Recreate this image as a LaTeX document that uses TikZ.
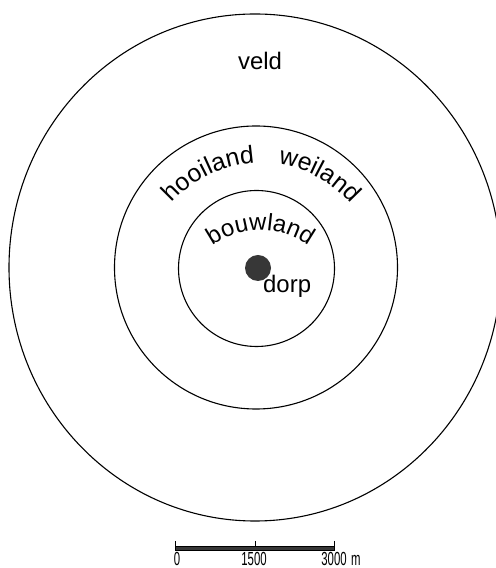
\documentclass[tikz,border=0pt]{standalone}
\usepackage{fontspec}
\setmainfont{Liberation Sans}
\usetikzlibrary{decorations.text,positioning}
\definecolor{dotgray}{RGB}{55,55,55}

\begin{document}
\begin{tikzpicture}[x=1bp,y=1bp,
    ring/.style={draw=black,line width=1.1bp},
    zone/.style={inner sep=0pt,font=\fontsize{24}{24}\selectfont},
    barfont/.style={inner sep=0pt,font=\fontsize{19}{19}\selectfont},
    tick/.style={draw=black,line width=0.9bp}]
  \useasboundingbox (0,0) rectangle (496,568);
  % rings round the village
  \draw[ring] (255,300.5) ellipse [x radius=246,y radius=253.5];
  \draw[ring] (256,300.5) circle [radius=141.5];
  \draw[ring] (256.5,299.5) circle [radius=78];
  % village
  \fill[dotgray] (258,300) circle [radius=13];
  \node[zone,anchor=base west] (dorp) at (263,275) {dorp};
  \node[zone,anchor=base] (veld) at (260,498) {veld};
  % curved zone names
  \path[decorate,decoration={text along path,
      text={|\fontsize{25}{25}\selectfont|hooiland}}]
    (172,365) arc [start angle=138.4,end angle=80,radius=119];
  \path[decorate,decoration={text along path,
      text={|\fontsize{25}{25}\selectfont|weiland}}]
    (278.2,403.8) arc [start angle=81.7,end angle=25,radius=119];
  \path[decorate,decoration={text along path,
      text={|\fontsize{24}{24}\selectfont|bouwland}}]
    (212.6,322.7) arc [start angle=125.8,end angle=35,radius=81];
  % scale bar
  \coordinate (s0) at (175,18);
  \coordinate (s3) at (334,21.5);
  \coordinate (t0) at (175,27);
  \coordinate (t1) at (255,27);
  \coordinate (t3) at (334,27);
  \draw[fill=dotgray,line width=0.6bp] (s0) rectangle (s3);
  \draw[tick] (t0) -- (t0 |- s0);
  \draw[tick] (t1) -- (t1 |- s3);
  \draw[tick] (t3) -- (t3 |- s0);
  \node[barfont,anchor=north] (l0) at (177,15.5) {\scalebox{0.6}[1]{0}};
  \node[barfont,anchor=north] (l1) at (254,15.5) {\scalebox{0.6}[1]{1500}};
  \node[barfont,anchor=north] (l3) at (334,15.5) {\scalebox{0.6}[1]{3000}};
  \node[barfont,base right=4bp of l3] (lm) {\scalebox{0.6}[1]{m}};
\end{tikzpicture}
\end{document}
